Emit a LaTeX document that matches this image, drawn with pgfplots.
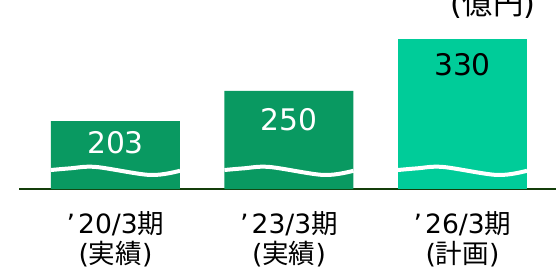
\documentclass[border=0pt]{standalone}
\usepackage{fontspec}
\setmainfont{DejaVu Sans}
\newfontfamily\cjk{Noto Sans CJK JP}
\usepackage{pgfplots}
\pgfplotsset{compat=1.18}
\definecolor{gA}{RGB}{9,153,97}
\definecolor{gB}{RGB}{0,204,153}
\definecolor{axc}{RGB}{20,62,10}
\begin{document}
\begin{tikzpicture}
\useasboundingbox (-14.25pt,-61.5pt) rectangle (402.75pt,141.75pt);
\begin{axis}[
  at={(0,0)}, anchor=south west,
  scale only axis, width=402.75pt, height=141.75pt,
  xmin=-0.556, xmax=2.539, ymin=98, ymax=390.7,
  axis line style={draw=none},
  ytick=\empty, xtick={0,1,2}, major tick length=0pt,
  xticklabels={{’\hspace{0.12em}20/3{\cjk 期}\\({\cjk 実績})},{’\hspace{0.12em}23/3{\cjk 期}\\({\cjk 実績})},{’\hspace{0.12em}26/3{\cjk 期}\\({\cjk 計画})}},
  xticklabel style={align=center, font=\fontsize{19.9}{22.5}\selectfont, yshift=-13pt},
  clip=false,
]
\draw[axc, line width=1.5pt] (axis cs:-0.556,98) -- (axis cs:2.539,98);
\addplot[ybar, bar width=0.7435, bar shift=0pt, fill=gA, draw=none] coordinates {(0,203) (1,250)};
\addplot[ybar, bar width=0.7435, bar shift=0pt, fill=gB, draw=none] coordinates {(2,330)};
\addplot[white, line width=3pt, smooth, tension=0.55] coordinates {(-0.372,127.4) (-0.26,130.0) (-0.112,132.1) (0.2,119.7) (0.372,126.3)};
\addplot[white, line width=3pt, smooth, tension=0.55] coordinates {(0.628,127.4) (0.74,130.0) (0.888,132.1) (1.2,119.7) (1.372,126.3)};
\addplot[white, line width=3pt, smooth, tension=0.55] coordinates {(1.628,127.4) (1.74,130.0) (1.888,132.1) (2.2,119.7) (2.372,126.3)};
\node[white, font=\fontsize{22.3}{26}\selectfont] at (axis cs:0,170) {203};
\node[white, font=\fontsize{22.3}{26}\selectfont] at (axis cs:1,205.6) {250};
\node[black, font=\fontsize{22.3}{26}\selectfont] at (axis cs:2,290) {330};
\end{axis}
\node[font=\fontsize{22.8}{26}\selectfont, anchor=base] at (355.5pt,130.5pt) {({\cjk 億円})};
\end{tikzpicture}
\end{document}
